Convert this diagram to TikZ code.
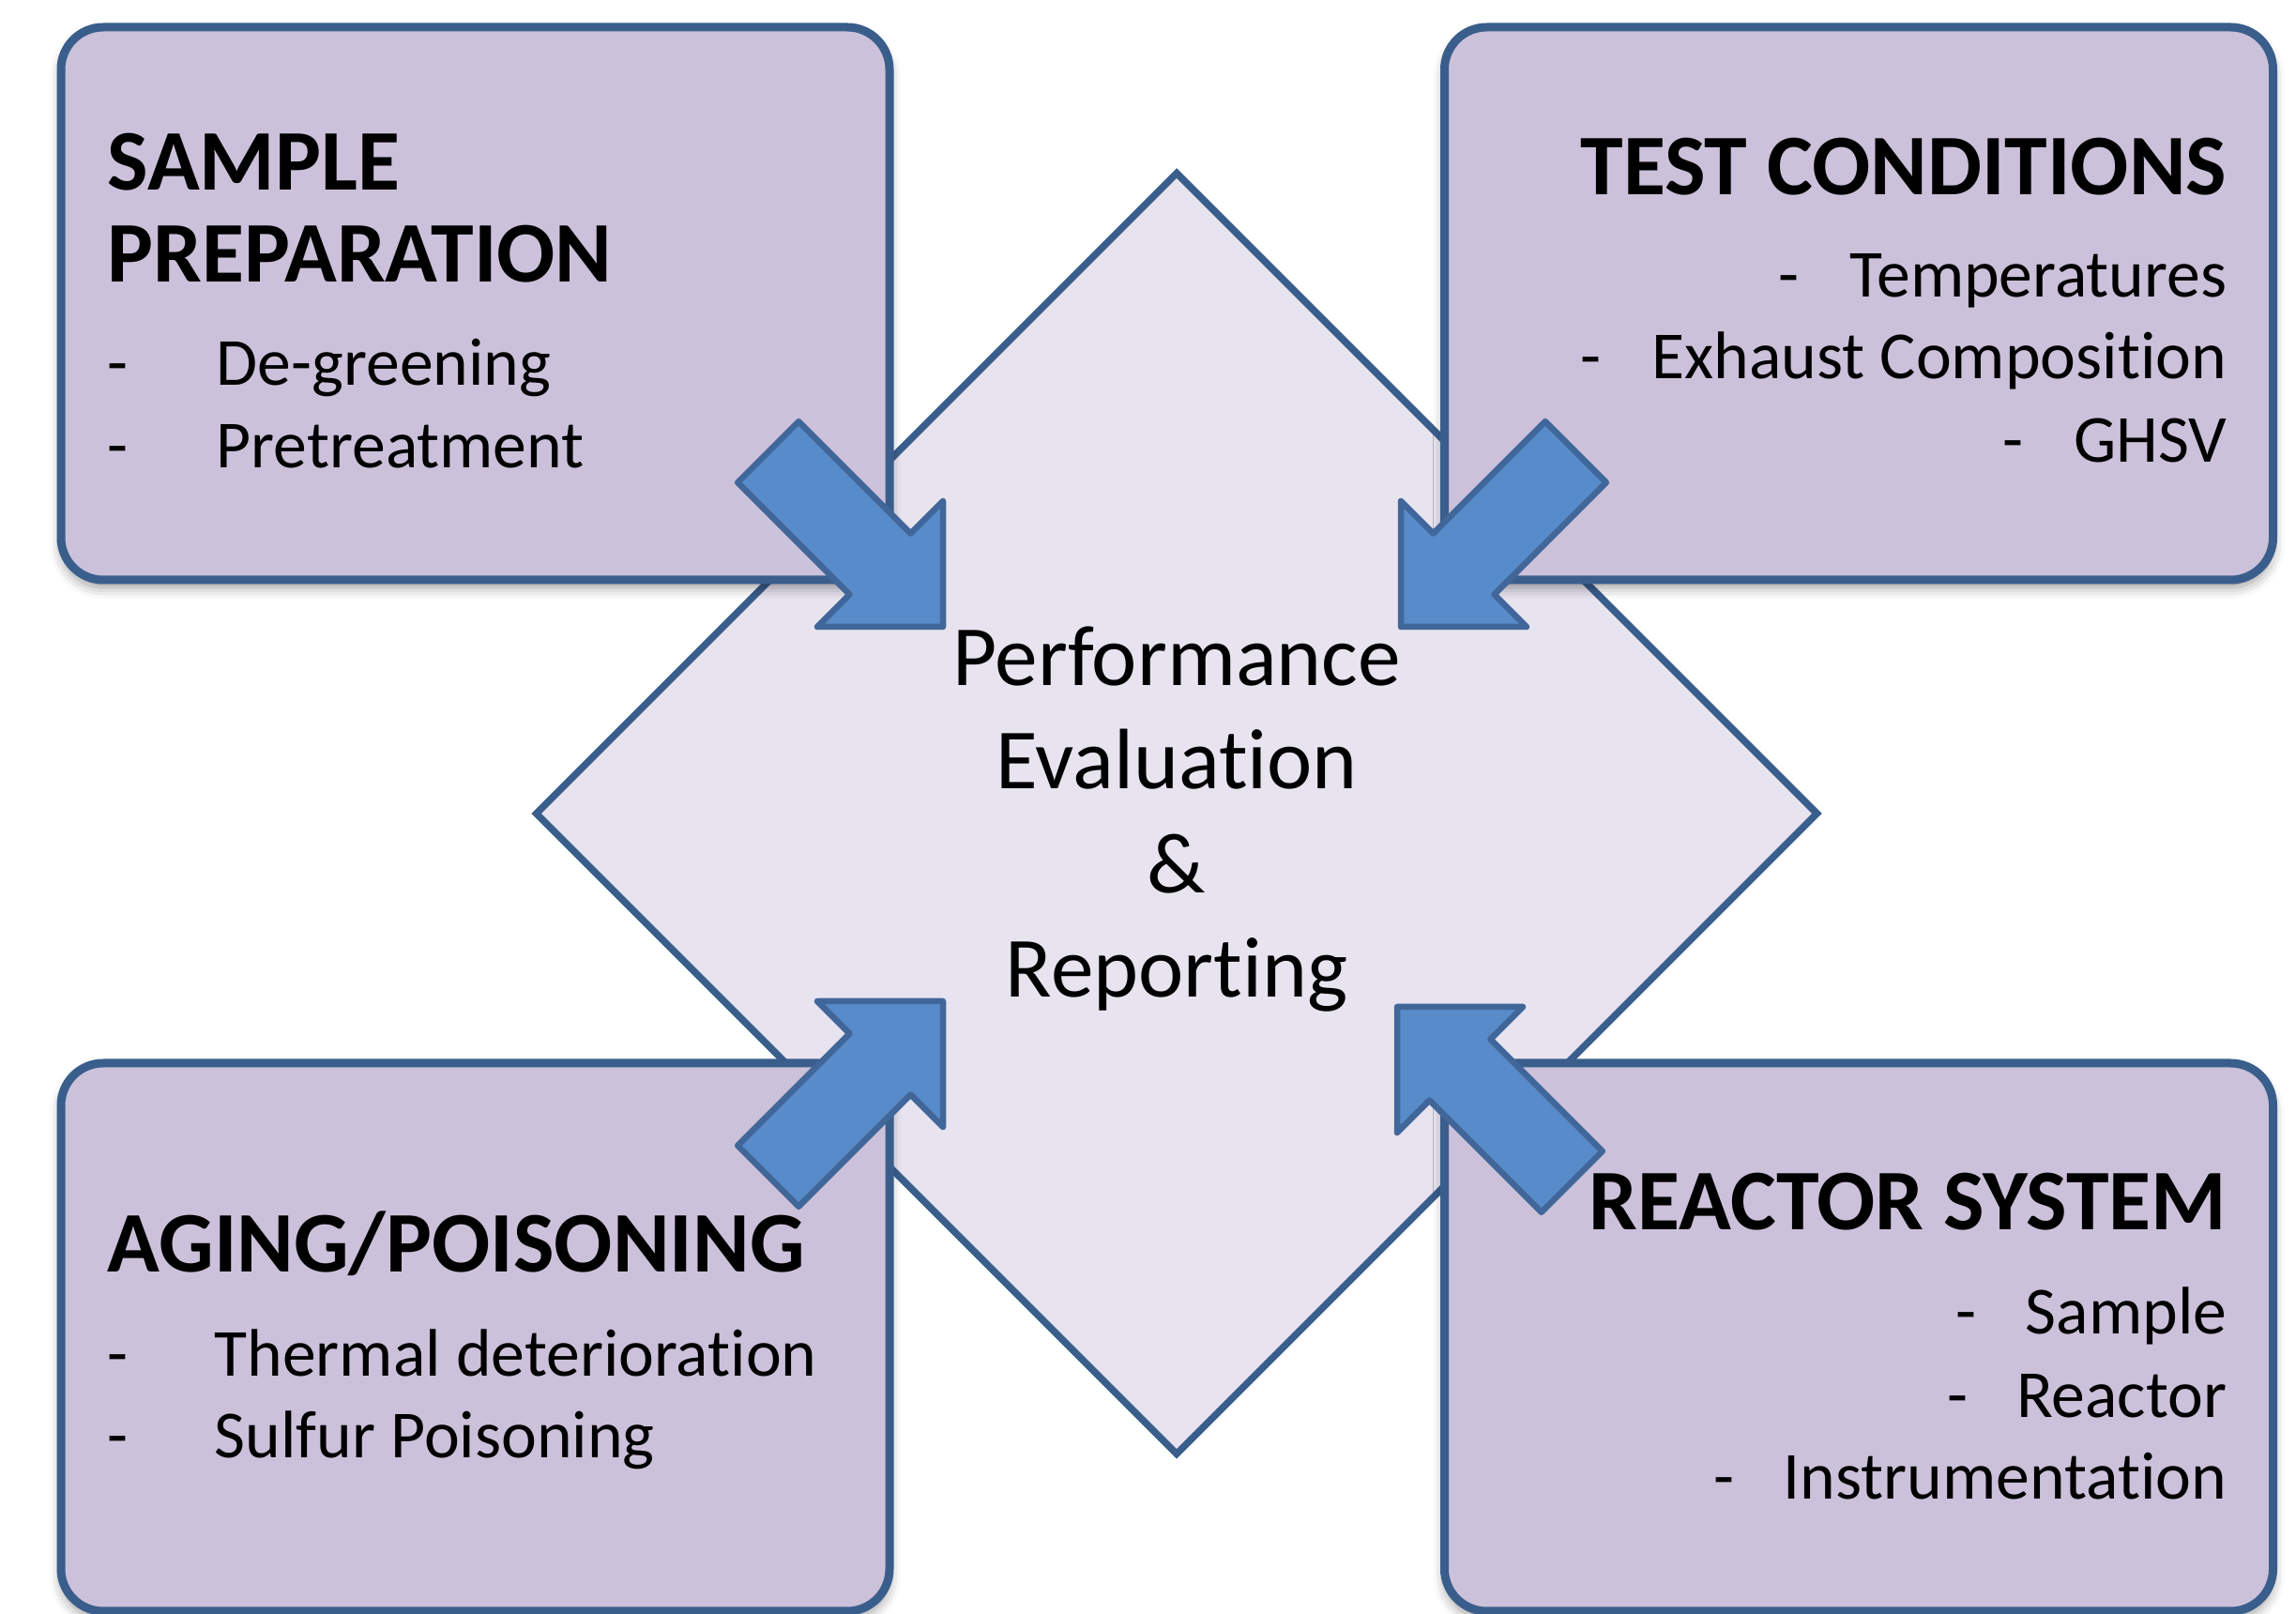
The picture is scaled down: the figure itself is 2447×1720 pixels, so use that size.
\documentclass[tikz,border=0pt]{standalone}
\usepackage{fontspec}
\setmainfont[Ligatures=NoCommon]{Carlito}
\usetikzlibrary{shapes.geometric,shadows.blur}

\definecolor{boxfill}{HTML}{CCC1DA}
\definecolor{edgeblue}{HTML}{3A5E8C}
\definecolor{corefill}{HTML}{E7E3EF}
\definecolor{arrowfill}{HTML}{588BC9}
\definecolor{arrowedge}{HTML}{41679A}

\begin{document}
\begin{tikzpicture}[x=0.1mm,y=-0.1mm,
  panel/.style={rectangle, draw=edgeblue, line width=0.9mm, fill=boxfill,
    rounded corners=4.5mm, inner sep=0pt, minimum width=88.3mm,
    blur shadow={shadow xshift=0mm, shadow yshift=-0.8mm,
      shadow blur radius=1.2mm, shadow opacity=40}},
  core/.style={diamond, aspect=1, draw=edgeblue, line width=0.75mm,
    fill=corefill, inner sep=0pt, minimum width=136.8mm, minimum height=136.8mm},
  head/.style={font=\fontsize{26.2}{31}\selectfont\bfseries, inner sep=0pt},
  item/.style={font=\fontsize{20.4}{25}\selectfont, inner sep=0pt},
  coretext/.style={font=\fontsize{26}{31}\selectfont, inner sep=0pt, anchor=base},
  pics/blockarrow/.style={code={
    \draw[fill=arrowfill, draw=arrowedge, line width=0.65mm, line join=round]
      (0,0) -- (-94.7,94.7) -- (-94.7,46) -- (-263.5,46) -- (-263.5,-46)
      -- (-94.7,-46) -- (-94.7,-94.7) -- cycle;}}
]
\useasboundingbox (0,0) rectangle (2447,1720);

% central diamond
\node[core] (hub) at (1254,867) {};

% four corner panels
\node[panel, minimum height=58.9mm] (prep)    at (506.5,323.5)  {};
\node[panel, minimum height=58.9mm] (cond)    at (1981,323.5)   {};
\node[panel, minimum height=58.4mm] (aging)   at (506.5,1425)   {};
\node[panel, minimum height=58.4mm] (reactor) at (1981,1425)    {};

% panel texts: sample preparation
\node[head, anchor=base west] (prepA) at (114,203) {SAMPLE};
\node[head, anchor=base west] (prepB) at (114,301) {PREPARATION};
\node[item, anchor=base west] (prepd1) at (114,411) {-};
\node[item, anchor=base west] (prep1)  at (230,411) {De-greening};
\node[item, anchor=base west] (prepd2) at (114,499) {-};
\node[item, anchor=base west] (prep2)  at (230,499) {Pretreatment};

% test conditions
\node[head, anchor=base east] (condA) at (2374,208) {TEST CONDITIONS};
\node[item, anchor=base east] (cond1) at (2374,317) {\makebox[7.6mm][l]{-}Temperatures};
\node[item, anchor=base east] (cond2) at (2374,404) {\makebox[7.6mm][l]{-}Exhaust Composition};
\node[item, anchor=base east] (cond3) at (2374,493) {\makebox[7.6mm][l]{-}GHSV};

% aging / poisoning
\node[head, anchor=base west] (agingA) at (114,1356) {AGING/POISONING};
\node[item, anchor=base west] (agingd1) at (114,1467) {-};
\node[item, anchor=base west] (aging1)  at (228,1467) {Thermal deterioration};
\node[item, anchor=base west] (agingd2) at (114,1554) {-};
\node[item, anchor=base west] (aging2)  at (228,1554) {Sulfur Poisoning};

% reactor system
\node[head, anchor=base east] (reactorA) at (2374,1311) {REACTOR SYSTEM};
\node[item, anchor=base east] (reactor1) at (2374,1422) {\makebox[7.4mm][l]{-}Sample};
\node[item, anchor=base east] (reactor2) at (2374,1511) {\makebox[7.4mm][l]{-}Reactor};
\node[item, anchor=base east] (reactor3) at (2374,1598) {\makebox[7.4mm][l]{-}Instrumentation};

% hub text
\node[coretext] (hub1) at (1254,731)  {Performance};
\node[coretext] (hub2) at (1254,841)  {Evaluation};
\node[coretext] (hub3) at (1254,952)  {\&};
\node[coretext] (hub4) at (1254,1063) {Reporting};

% block arrows pointing into the hub
\pic[rotate=-45]  (toPrep)    at (1005,668)  {blockarrow};
\pic[rotate=-135] (toCond)    at (1493,668)  {blockarrow};
\pic[rotate=45]   (toAging)   at (1005,1067) {blockarrow};
\pic[rotate=135]  (toReactor) at (1489,1073) {blockarrow};
\end{tikzpicture}
\end{document}
